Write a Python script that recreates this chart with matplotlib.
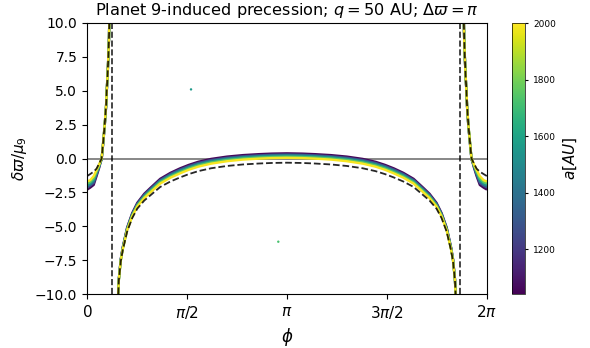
import numpy as np
import matplotlib
matplotlib.use("Agg")
import matplotlib.pyplot as plt
from matplotlib.colors import Normalize
from matplotlib.cm import ScalarMappable

# ---------------- data ----------------
# theoretical curve (dashed), three branches
phi_left = [0.0, 0.05, 0.105, 0.15, 0.19, 0.21, 0.23, 0.25, 0.278, 0.30, 0.31, 0.325, 0.335, 0.345, 0.35]
dash_left = [-1.3, -1.15, -0.97, -0.75, -0.38, -0.2, 0.0, 1.0, 2.5, 3.9, 5.0, 6.3, 7.5, 8.8, 10.0]

phi_mid = [0.49, 0.50, 0.53, 0.56, 0.63, 0.71, 0.79, 0.90, 1.00, 1.15, 1.31, 1.46, 1.60, 1.75, 1.95,
           2.20, 2.45, 2.70, 2.90, 3.14,
           3.38, 3.58, 3.83, 4.08, 4.33, 4.53, 4.68, 4.82, 4.97, 5.13, 5.28, 5.38, 5.49, 5.57, 5.65,
           5.72, 5.75, 5.78, 5.79]
dash_mid = [-10.0, -9.0, -7.6, -6.8, -5.4, -4.4, -3.7, -3.1, -2.7, -2.1, -1.7, -1.4, -1.15, -0.93, -0.72,
            -0.55, -0.44, -0.37, -0.33, -0.31,
            -0.33, -0.37, -0.44, -0.55, -0.72, -0.93, -1.15, -1.4, -1.7, -2.1, -2.7, -3.1, -3.7, -4.4, -5.4,
            -6.8, -7.6, -9.0, -10.0]

phi_right = [5.92, 5.925, 5.935, 5.945, 5.96, 5.97, 5.99, 6.02, 6.04, 6.06, 6.08, 6.12, 6.17, 6.23, 6.283]
dash_right = [10.0, 8.8, 7.5, 6.3, 5.0, 3.9, 2.5, 1.0, 0.0, -0.2, -0.38, -0.75, -0.97, -1.15, -1.3]

# asymptote positions (vertical dashed lines)
phi_asym = [0.40, 5.86]

# simulated precession, one track per semi-major axis level
a_levels = [1060, 1290, 1520, 1760, 1990]

band_left = [
    [-2.3, -2.15, -1.95, -1.3, -0.7, -0.35, -0.05, 0.9, 2.4, 3.85, 4.95, 6.3, 7.5, 8.8, 10.0],
    [-2.15, -2.0, -1.8, -1.2, -0.63, -0.32, -0.04, 0.93, 2.43, 3.86, 4.96, 6.3, 7.5, 8.8, 10.0],
    [-2.0, -1.88, -1.63, -1.08, -0.58, -0.29, -0.03, 0.95, 2.45, 3.88, 4.98, 6.3, 7.5, 8.8, 10.0],
    [-1.85, -1.74, -1.47, -0.96, -0.52, -0.25, -0.01, 0.98, 2.48, 3.89, 4.99, 6.3, 7.5, 8.8, 10.0],
    [-1.7, -1.6, -1.3, -0.85, -0.45, -0.22, 0.0, 1.0, 2.5, 3.9, 5.0, 6.3, 7.5, 8.8, 10.0],
]
band_right = [
    [10.0, 8.8, 7.5, 6.3, 4.95, 3.85, 2.4, 0.9, -0.05, -0.35, -0.7, -1.3, -1.95, -2.15, -2.3],
    [10.0, 8.8, 7.5, 6.3, 4.96, 3.86, 2.43, 0.93, -0.04, -0.32, -0.63, -1.2, -1.8, -2.0, -2.15],
    [10.0, 8.8, 7.5, 6.3, 4.98, 3.88, 2.45, 0.95, -0.03, -0.29, -0.58, -1.08, -1.63, -1.88, -2.0],
    [10.0, 8.8, 7.5, 6.3, 4.99, 3.89, 2.48, 0.98, -0.01, -0.25, -0.52, -0.96, -1.47, -1.74, -1.85],
    [10.0, 8.8, 7.5, 6.3, 5.0, 3.9, 2.5, 1.0, 0.0, -0.22, -0.45, -0.85, -1.3, -1.6, -1.7],
]
band_mid = [
    [-10.0, -8.9, -7.44, -6.58, -5.1, -4.03, -3.27, -2.6, -2.15, -1.5, -1.06, -0.73, -0.47, -0.24, -0.03,
     0.14, 0.25, 0.32, 0.36, 0.38,
     0.36, 0.32, 0.25, 0.14, -0.03, -0.24, -0.47, -0.73, -1.06, -1.5, -2.15, -2.6, -3.27, -4.03, -5.1,
     -6.58, -7.44, -8.9, -10.0],
    [-10.0, -8.92, -7.47, -6.62, -5.15, -4.09, -3.34, -2.68, -2.23, -1.59, -1.15, -0.82, -0.56, -0.33, -0.12,
     0.05, 0.16, 0.23, 0.27, 0.29,
     0.27, 0.23, 0.16, 0.05, -0.12, -0.33, -0.56, -0.82, -1.15, -1.59, -2.23, -2.68, -3.34, -4.09, -5.15,
     -6.62, -7.47, -8.92, -10.0],
    [-10.0, -8.94, -7.5, -6.66, -5.2, -4.15, -3.41, -2.76, -2.32, -1.67, -1.24, -0.91, -0.65, -0.42, -0.2,
     -0.03, 0.09, 0.16, 0.2, 0.22,
     0.2, 0.16, 0.09, -0.03, -0.2, -0.42, -0.65, -0.91, -1.24, -1.67, -2.32, -2.76, -3.41, -4.15, -5.2,
     -6.66, -7.5, -8.94, -10.0],
    [-10.0, -8.96, -7.53, -6.7, -5.26, -4.22, -3.48, -2.84, -2.4, -1.76, -1.33, -1.01, -0.74, -0.51, -0.29,
     -0.11, 0.0, 0.07, 0.11, 0.13,
     0.11, 0.07, 0.0, -0.11, -0.29, -0.51, -0.74, -1.01, -1.33, -1.76, -2.4, -2.84, -3.48, -4.22, -5.26,
     -6.7, -7.53, -8.96, -10.0],
    [-10.0, -8.98, -7.56, -6.74, -5.31, -4.28, -3.55, -2.92, -2.49, -1.85, -1.42, -1.1, -0.83, -0.6, -0.38,
     -0.2, -0.08, -0.01, 0.03, 0.05,
     0.03, -0.01, -0.08, -0.2, -0.38, -0.6, -0.83, -1.1, -1.42, -1.85, -2.49, -2.92, -3.55, -4.28, -5.31,
     -6.74, -7.56, -8.98, -10.0],
]

# stray simulation points
stray_phi = [1.634, 3.005]
stray_y = [5.1, -6.14]
stray_a = [1560, 1720]

# colour scale
a_min, a_max = 1042, 2000
cbar_ticks = [1200, 1400, 1600, 1800, 2000]

# axis ticks
xticks = [0, np.pi / 2, np.pi, 3 * np.pi / 2, 2 * np.pi]
xticklabels = ["$0$", r"$\pi/2$", r"$\pi$", r"$3\pi/2$", r"$2\pi$"]
yticks = [-10.0, -7.5, -5.0, -2.5, 0.0, 2.5, 5.0, 7.5, 10.0]

# ---------------- figure ----------------
fig = plt.figure(figsize=(5.9, 3.48), dpi=100)
ax = fig.add_axes([87 / 590, 54 / 348, 400 / 590, 271 / 348])
cax = fig.add_axes([512 / 590, 54 / 348, 13 / 590, 271 / 348])

cmap = plt.get_cmap("viridis")
norm = Normalize(vmin=a_min, vmax=a_max)

ax.axhline(0, color="0.45", lw=1.2, zorder=1)

for i, a in enumerate(a_levels):
    c = cmap(norm(a))
    for px, py in ((phi_left, band_left[i]), (phi_mid, band_mid[i]), (phi_right, band_right[i])):
        ax.plot(px, py, color=c, lw=1.7, solid_capstyle="butt", solid_joinstyle="round", zorder=2)

ax.scatter(stray_phi, stray_y, c=stray_a, cmap=cmap, norm=norm, s=3, zorder=3, linewidths=0)

for px, py in ((phi_left, dash_left), (phi_mid, dash_mid), (phi_right, dash_right)):
    ax.plot(px, py, color="k", ls="--", lw=1.3, alpha=0.85, zorder=4)

for p in phi_asym:
    ax.axvline(p, color="k", ls="--", lw=1.2, alpha=0.85, zorder=4)

ax.set_xlim(0, 2 * np.pi)
ax.set_ylim(-10, 10)
ax.set_xticks(xticks)
ax.set_xticklabels(xticklabels, fontsize=11)
ax.set_yticks(yticks)
ax.tick_params(axis="y", labelsize=10)
ax.set_xlabel(r"$\phi$", fontsize=12)
ax.set_ylabel(r"$\delta\varpi/\mu_9$", fontsize=11)
ax.set_title(r"Planet 9-induced precession; $q = 50$ AU; $\Delta\varpi = \pi$", fontsize=11.6)

sm = ScalarMappable(norm=norm, cmap=cmap)
cb = fig.colorbar(sm, cax=cax)
cb.set_ticks(cbar_ticks)
cb.ax.tick_params(labelsize=6.5, length=2.5)
cb.set_label(r"$a[AU]$", fontsize=11)
cb.outline.set_linewidth(0.5)

fig.savefig("out.png", dpi=100)
